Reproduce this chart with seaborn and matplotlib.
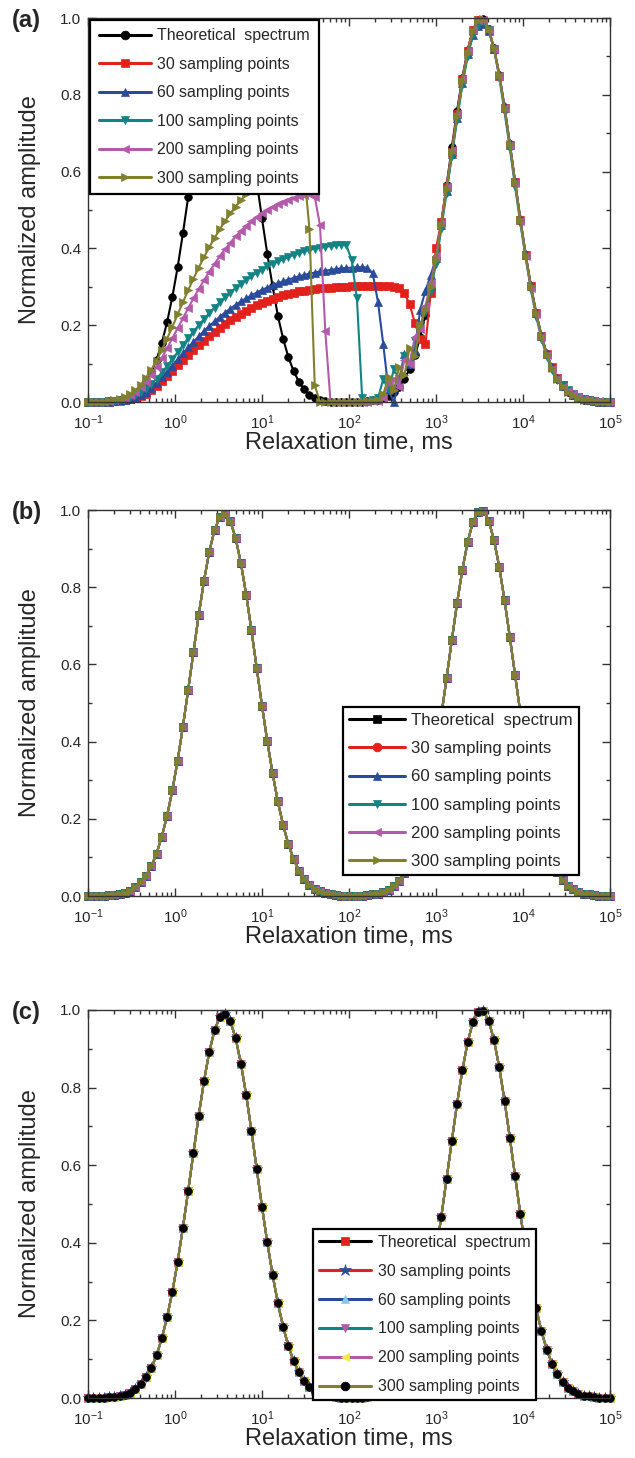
import numpy as np
import pandas as pd
import matplotlib
matplotlib.use("Agg")
import matplotlib.pyplot as plt
import seaborn as sns
from matplotlib.ticker import FixedLocator, MultipleLocator, FormatStrFormatter, NullFormatter, LogFormatterSciNotation

# ---------------- data ----------------
relaxation_time = np.logspace(-1, 5, 100)  # ms, log-spaced T2 grid
x_major_ticks = [0.1, 1, 10, 100, 1000, 10000, 100000]

series_labels = ["Theoretical  spectrum", "30 sampling points", "60 sampling points",
                 "100 sampling points", "200 sampling points", "300 sampling points"]

theoretical = [0.000, 0.000, 0.001, 0.001, 0.002, 0.003, 0.005, 0.009, 0.014, 0.023,
               0.035, 0.053, 0.077, 0.110, 0.154, 0.208, 0.274, 0.351, 0.439, 0.534,
               0.632, 0.728, 0.817, 0.892, 0.948, 0.982, 0.989, 0.971, 0.927, 0.862,
               0.781, 0.688, 0.590, 0.493, 0.401, 0.318, 0.245, 0.184, 0.134, 0.095,
               0.066, 0.045, 0.029, 0.019, 0.012, 0.007, 0.004, 0.002, 0.001, 0.001,
               0.000, 0.001, 0.001, 0.002, 0.004, 0.006, 0.010, 0.016, 0.026, 0.039,
               0.059, 0.086, 0.122, 0.168, 0.226, 0.295, 0.376, 0.467, 0.564, 0.663,
               0.759, 0.845, 0.917, 0.969, 0.996, 0.997, 0.972, 0.922, 0.852, 0.766,
               0.671, 0.572, 0.474, 0.383, 0.301, 0.231, 0.172, 0.125, 0.088, 0.061,
               0.041, 0.027, 0.017, 0.010, 0.006, 0.004, 0.002, 0.001, 0.001, 0.000]

a_theoretical = [0.000, 0.000, 0.001, 0.001, 0.002, 0.003, 0.005, 0.009, 0.014, 0.023,
                 0.035, 0.053, 0.077, 0.110, 0.154, 0.208, 0.274, 0.351, 0.439, 0.534,
                 0.632, 0.728, 0.817, 0.892, 0.948, 0.982, 0.985, 0.962, 0.915, 0.848,
                 0.764, 0.671, 0.574, 0.478, 0.386, 0.302, 0.225, 0.165, 0.117, 0.080,
                 0.053, 0.033, 0.019, 0.010, 0.005, 0.003, 0.001, 0.000, 0.000, 0.000,
                 0.000, 0.000, 0.000, 0.002, 0.004, 0.006, 0.010, 0.016, 0.026, 0.039,
                 0.059, 0.086, 0.122, 0.168, 0.226, 0.295, 0.376, 0.467, 0.564, 0.663,
                 0.759, 0.845, 0.917, 0.969, 0.996, 0.997, 0.972, 0.922, 0.852, 0.766,
                 0.671, 0.572, 0.474, 0.383, 0.301, 0.231, 0.172, 0.125, 0.088, 0.061,
                 0.041, 0.027, 0.017, 0.010, 0.006, 0.004, 0.002, 0.001, 0.001, 0.000]

a_30 = [0.000, 0.000, 0.000, 0.001, 0.001, 0.002, 0.003, 0.005, 0.008, 0.011,
        0.015, 0.020, 0.030, 0.042, 0.055, 0.068, 0.082, 0.096, 0.110, 0.123,
        0.136, 0.148, 0.160, 0.172, 0.183, 0.194, 0.204, 0.213, 0.222, 0.230,
        0.238, 0.245, 0.252, 0.258, 0.264, 0.269, 0.274, 0.278, 0.282, 0.285,
        0.288, 0.290, 0.292, 0.294, 0.296, 0.297, 0.298, 0.299, 0.300, 0.300,
        0.301, 0.301, 0.302, 0.302, 0.302, 0.302, 0.302, 0.301, 0.300, 0.296,
        0.283, 0.255, 0.205, 0.165, 0.150, 0.285, 0.400, 0.470, 0.560, 0.650,
        0.750, 0.840, 0.915, 0.970, 0.995, 0.990, 0.970, 0.920, 0.850, 0.765,
        0.670, 0.572, 0.474, 0.383, 0.301, 0.231, 0.172, 0.125, 0.090, 0.063,
        0.043, 0.028, 0.018, 0.011, 0.007, 0.004, 0.002, 0.001, 0.001, 0.000]

a_60 = [0.000, 0.000, 0.000, 0.001, 0.001, 0.002, 0.004, 0.006, 0.009, 0.013,
        0.019, 0.027, 0.037, 0.050, 0.064, 0.079, 0.095, 0.111, 0.127, 0.142,
        0.157, 0.171, 0.185, 0.198, 0.210, 0.222, 0.233, 0.243, 0.253, 0.262,
        0.270, 0.278, 0.285, 0.292, 0.298, 0.304, 0.309, 0.314, 0.319, 0.323,
        0.327, 0.331, 0.334, 0.337, 0.340, 0.342, 0.344, 0.346, 0.348, 0.349,
        0.350, 0.351, 0.351, 0.350, 0.335, 0.260, 0.150, 0.030, 0.000, 0.050,
        0.125, 0.100, 0.135, 0.240, 0.290, 0.330, 0.375, 0.460, 0.550, 0.645,
        0.740, 0.830, 0.905, 0.955, 0.980, 0.985, 0.965, 0.920, 0.855, 0.770,
        0.675, 0.575, 0.478, 0.386, 0.304, 0.233, 0.174, 0.127, 0.090, 0.062,
        0.042, 0.028, 0.018, 0.011, 0.007, 0.004, 0.002, 0.001, 0.001, 0.000]

a_100 = [0.000, 0.000, 0.001, 0.001, 0.002, 0.003, 0.005, 0.008, 0.012, 0.018,
         0.025, 0.035, 0.047, 0.061, 0.077, 0.094, 0.112, 0.130, 0.148, 0.166,
         0.183, 0.200, 0.216, 0.231, 0.246, 0.260, 0.273, 0.285, 0.297, 0.308,
         0.318, 0.328, 0.337, 0.345, 0.353, 0.360, 0.366, 0.372, 0.378, 0.383,
         0.388, 0.392, 0.396, 0.399, 0.402, 0.404, 0.406, 0.408, 0.409, 0.408,
         0.370, 0.270, 0.010, 0.000, 0.005, 0.010, 0.060, 0.030, 0.085, 0.060,
         0.120, 0.100, 0.160, 0.200, 0.235, 0.290, 0.360, 0.450, 0.545, 0.640,
         0.735, 0.825, 0.900, 0.955, 0.980, 0.990, 0.968, 0.918, 0.845, 0.755,
         0.660, 0.560, 0.465, 0.375, 0.292, 0.222, 0.164, 0.118, 0.083, 0.058,
         0.045, 0.032, 0.022, 0.014, 0.008, 0.005, 0.003, 0.001, 0.001, 0.000]

a_200 = [0.000, 0.000, 0.001, 0.001, 0.002, 0.004, 0.007, 0.011, 0.017, 0.026,
         0.038, 0.053, 0.071, 0.092, 0.115, 0.140, 0.166, 0.192, 0.218, 0.244,
         0.270, 0.294, 0.317, 0.339, 0.360, 0.380, 0.398, 0.415, 0.431, 0.446,
         0.459, 0.471, 0.482, 0.492, 0.501, 0.509, 0.516, 0.522, 0.527, 0.532,
         0.536, 0.539, 0.541, 0.535, 0.460, 0.185, 0.000, 0.000, 0.001, 0.000,
         0.000, 0.001, 0.000, 0.001, 0.002, 0.003, 0.010, 0.050, 0.060, 0.040,
         0.110, 0.100, 0.170, 0.190, 0.250, 0.310, 0.380, 0.465, 0.560, 0.655,
         0.750, 0.840, 0.915, 0.968, 0.995, 0.995, 0.970, 0.920, 0.850, 0.765,
         0.670, 0.570, 0.472, 0.380, 0.298, 0.228, 0.170, 0.123, 0.087, 0.060,
         0.040, 0.028, 0.020, 0.013, 0.008, 0.005, 0.003, 0.002, 0.001, 0.000]

a_300 = [0.000, 0.000, 0.001, 0.001, 0.003, 0.005, 0.008, 0.013, 0.020, 0.030,
         0.045, 0.063, 0.084, 0.108, 0.135, 0.165, 0.196, 0.228, 0.260, 0.291,
         0.321, 0.350, 0.377, 0.403, 0.427, 0.450, 0.471, 0.491, 0.509, 0.526,
         0.542, 0.556, 0.569, 0.580, 0.590, 0.598, 0.605, 0.610, 0.614, 0.617,
         0.618, 0.600, 0.450, 0.044, 0.000, 0.000, 0.001, 0.000, 0.000, 0.001,
         0.000, 0.000, 0.001, 0.002, 0.003, 0.005, 0.020, 0.065, 0.030, 0.090,
         0.070, 0.140, 0.120, 0.200, 0.240, 0.300, 0.370, 0.460, 0.555, 0.650,
         0.745, 0.835, 0.910, 0.965, 0.995, 0.998, 0.972, 0.922, 0.852, 0.766,
         0.671, 0.572, 0.474, 0.383, 0.301, 0.231, 0.172, 0.125, 0.088, 0.061,
         0.041, 0.027, 0.017, 0.010, 0.006, 0.004, 0.002, 0.001, 0.001, 0.000]

panel_a_values = [a_theoretical, a_30, a_60, a_100, a_200, a_300]
# panels (b) and (c): every inversion reproduces the theoretical spectrum
panel_b_values = [theoretical, theoretical, theoretical, theoretical, theoretical, theoretical]
panel_c_values = [theoretical, theoretical, theoretical, theoretical, theoretical, theoretical]

# ---------------- style ----------------
sns.set_style("ticks")
plt.rcParams.update({
    "font.family": ["Liberation Sans", "DejaVu Sans"],
    "mathtext.default": "regular",
    "axes.unicode_minus": False,
    "xtick.direction": "in", "ytick.direction": "in",
    "xtick.top": True, "ytick.right": True,
})

line_colors = ["#000000", "#E3211C", "#2A4B9B", "#138383", "#B35BAA", "#80802F"]
a_markers = ["o", "s", "^", "v", "<", ">"]
b_markers = ["s", "o", "^", "v", "<", ">"]
c_markers = ["s", "*", "^", "v", "<", "o"]
c_marker_colors = ["#E3211C", "#2A4B9B", "#86C8E8", "#B35BAA", "#F2EC3A", "#000000"]

fig = plt.figure(figsize=(6.35, 14.58), dpi=100)
W, H = 635.0, 1458.0
ax_left, ax_right = 88, 610
panels = [
    dict(top=18, bottom=402, label="(a)", values=panel_a_values, markers=a_markers,
         mcolors=line_colors, leg_anchor=(0.004, 0.996), leg_loc="upper left",
         leg_fs=11.4, leg_sp=0.85, leg_bp=0.55),
    dict(top=510, bottom=896, label="(b)", values=panel_b_values, markers=b_markers,
         mcolors=line_colors, leg_anchor=(0.488, 0.054), leg_loc="lower left",
         leg_fs=12.1, leg_sp=0.78, leg_bp=0.38),
    dict(top=1010, bottom=1398, label="(c)", values=panel_c_values, markers=c_markers,
         mcolors=c_marker_colors, leg_anchor=(0.431, -0.006), leg_loc="lower left",
         leg_fs=11.4, leg_sp=0.88, leg_bp=0.38),
]

for p in panels:
    ax = fig.add_axes([ax_left / W, 1 - p["bottom"] / H,
                       (ax_right - ax_left) / W, (p["bottom"] - p["top"]) / H])
    for lab, vals, col, mk, mc in zip(series_labels, p["values"], line_colors,
                                      p["markers"], p["mcolors"]):
        df = pd.DataFrame({"t": relaxation_time, "amp": vals})
        ms = 8 if mk == "*" else 5.5
        sns.lineplot(data=df, x="t", y="amp", ax=ax, color=col, linewidth=1.5,
                     marker=mk, markersize=ms, markerfacecolor=mc, markeredgecolor=mc,
                     markeredgewidth=0.5, estimator=None, errorbar=None, label=lab,
                     clip_on=False)
    ax.set_xscale("log")
    ax.set_xlim(0.1, 1e5)
    ax.set_ylim(0, 1.0)
    ax.xaxis.set_major_locator(FixedLocator(x_major_ticks))
    ax.xaxis.set_major_formatter(LogFormatterSciNotation())
    minor = [m * 10.0 ** e for e in range(-1, 5) for m in range(2, 10)]
    ax.xaxis.set_minor_locator(FixedLocator(minor))
    ax.xaxis.set_minor_formatter(NullFormatter())
    ax.yaxis.set_major_locator(MultipleLocator(0.2))
    ax.yaxis.set_minor_locator(MultipleLocator(0.1))
    ax.yaxis.set_major_formatter(FormatStrFormatter("%.1f"))
    ax.tick_params(which="major", length=6, width=1, labelsize=11, color="#333333")
    ax.tick_params(which="minor", length=3, width=1, color="#333333")
    ax.tick_params(axis="x", which="major", pad=8)
    ax.tick_params(axis="y", which="major", pad=5)
    for s in ax.spines.values():
        s.set_linewidth(1.0)
        s.set_color("#333333")
    ax.set_xlabel("Relaxation time, ms", fontsize=17)
    ax.set_ylabel("Normalized amplitude", fontsize=17)
    ax.xaxis.set_label_coords(0.5, -0.078)
    ax.yaxis.set_label_coords(-0.09, 0.5)
    handles, labels = ax.get_legend_handles_labels()
    leg = ax.legend(handles, labels, loc=p["leg_loc"], bbox_to_anchor=p["leg_anchor"],
                    fontsize=p["leg_fs"], frameon=True, fancybox=False, framealpha=1,
                    edgecolor="black", handlelength=3.3, handletextpad=0.4,
                    labelspacing=p["leg_sp"], borderpad=p["leg_bp"], borderaxespad=0.0,
                    markerscale=1.15)
    leg.get_frame().set_linewidth(1.6)
    for h in leg.get_lines():
        h.set_linewidth(2.2)
    fig.text(12 / W, 1 - (p["top"] + 2) / H, p["label"], fontsize=17, fontweight="bold",
             ha="left", va="center")

fig.savefig("out.png", dpi=100)
